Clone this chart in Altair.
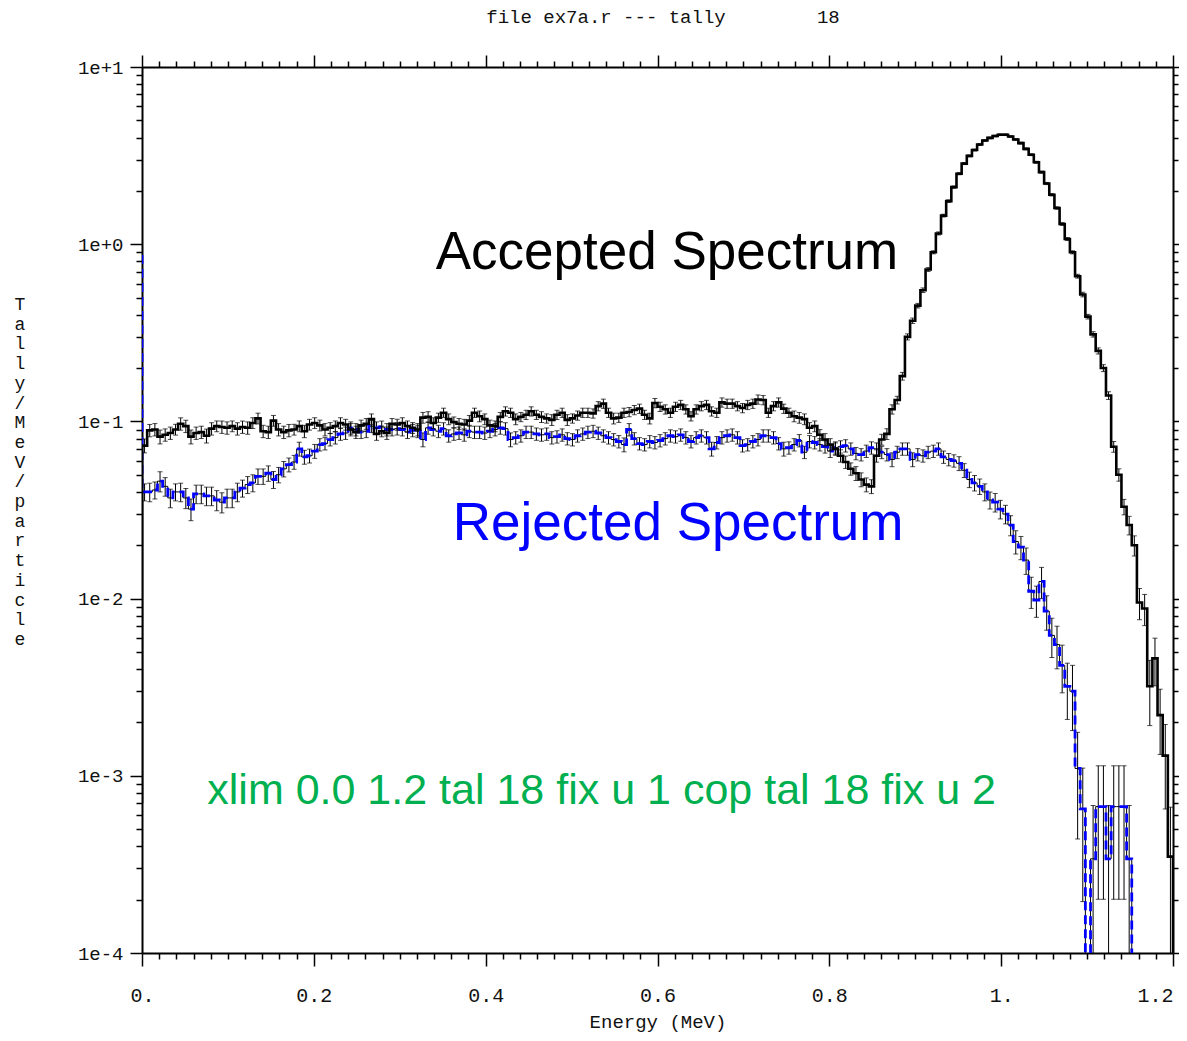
import numpy as np
import pandas as pd
import altair as alt

# ------------------------------------------------------------------ data
E_MAX = 1.2
BIN_W = 0.006
N_BINS = 200
ACC_FIRST = 0.0007     # tiny first bin at E = 0 (accepted)
REJ_FIRST = 0.87       # tiny first bin at E = 0 (rejected)

ACCEPTED = [
    0.073, 0.089, 0.090, 0.082, 0.084, 0.086, 0.090, 0.097, 0.094, 0.082,
    0.086, 0.087, 0.083, 0.091, 0.094, 0.093, 0.092, 0.094, 0.091, 0.093,
    0.092, 0.098, 0.104, 0.088, 0.087, 0.101, 0.090, 0.087, 0.089, 0.090,
    0.094, 0.088, 0.096, 0.098, 0.095, 0.090, 0.092, 0.094, 0.098, 0.096,
    0.090, 0.087, 0.095, 0.097, 0.103, 0.085, 0.088, 0.086, 0.097, 0.096,
    0.098, 0.094, 0.092, 0.090, 0.105, 0.106, 0.098, 0.105, 0.112, 0.103,
    0.099, 0.097, 0.096, 0.101, 0.112, 0.107, 0.103, 0.095, 0.094, 0.106,
    0.114, 0.112, 0.103, 0.106, 0.109, 0.114, 0.109, 0.106, 0.104, 0.102,
    0.109, 0.112, 0.102, 0.104, 0.108, 0.112, 0.112, 0.111, 0.122, 0.126,
    0.112, 0.104, 0.105, 0.112, 0.113, 0.116, 0.118, 0.109, 0.104, 0.127,
    0.121, 0.117, 0.112, 0.121, 0.124, 0.117, 0.107, 0.117, 0.122, 0.124,
    0.114, 0.112, 0.128, 0.126, 0.126, 0.122, 0.119, 0.124, 0.126, 0.133,
    0.132, 0.112, 0.122, 0.128, 0.118, 0.112, 0.107, 0.105, 0.103, 0.092,
    0.094, 0.084, 0.079, 0.074, 0.070, 0.064, 0.059, 0.054, 0.051, 0.047,
    0.044, 0.043, 0.064, 0.079, 0.085, 0.117, 0.132, 0.180, 0.300, 0.370,
    0.45, 0.55, 0.72, 0.90, 1.15, 1.45, 1.75, 2.10, 2.50, 2.85,
    3.15, 3.40, 3.65, 3.85, 3.98, 4.08, 4.15, 4.15, 4.05, 3.90,
    3.72, 3.45, 3.20, 2.90, 2.55, 2.20, 1.90, 1.60, 1.30, 1.07,
    0.90, 0.66, 0.52, 0.39, 0.31, 0.25, 0.20, 0.14, 0.072, 0.050,
    0.033, 0.026, 0.020, 0.0095, 0.0088, 0.0032, 0.0046, 0.0022, 0.0013, 0.00035,
]

REJECTED = [
    0.040, 0.040, 0.041, 0.046, 0.043, 0.037, 0.040, 0.040, 0.037, 0.032,
    0.039, 0.039, 0.038, 0.038, 0.036, 0.035, 0.037, 0.037, 0.040, 0.042,
    0.044, 0.045, 0.049, 0.049, 0.051, 0.047, 0.050, 0.054, 0.057, 0.059,
    0.070, 0.063, 0.064, 0.068, 0.074, 0.075, 0.079, 0.081, 0.085, 0.086,
    0.092, 0.090, 0.087, 0.088, 0.094, 0.092, 0.093, 0.090, 0.090, 0.091,
    0.090, 0.087, 0.089, 0.088, 0.079, 0.092, 0.090, 0.088, 0.091, 0.083,
    0.085, 0.086, 0.084, 0.088, 0.087, 0.087, 0.086, 0.088, 0.090, 0.092,
    0.091, 0.079, 0.081, 0.083, 0.087, 0.087, 0.085, 0.084, 0.085, 0.081,
    0.082, 0.084, 0.080, 0.079, 0.083, 0.085, 0.087, 0.088, 0.086, 0.083,
    0.081, 0.079, 0.077, 0.074, 0.090, 0.080, 0.075, 0.074, 0.077, 0.076,
    0.078, 0.080, 0.083, 0.082, 0.084, 0.081, 0.077, 0.081, 0.083, 0.081,
    0.070, 0.076, 0.081, 0.083, 0.084, 0.081, 0.073, 0.074, 0.077, 0.079,
    0.083, 0.083, 0.081, 0.075, 0.070, 0.071, 0.074, 0.078, 0.067, 0.077,
    0.076, 0.074, 0.072, 0.068, 0.071, 0.072, 0.073, 0.070, 0.066, 0.065,
    0.068, 0.071, 0.070, 0.067, 0.065, 0.061, 0.067, 0.070, 0.070, 0.061,
    0.065, 0.064, 0.067, 0.068, 0.070, 0.063, 0.061, 0.060, 0.058, 0.053,
    0.047, 0.045, 0.043, 0.040, 0.036, 0.035, 0.032, 0.030, 0.026, 0.021,
    0.0195, 0.0165, 0.011, 0.0098, 0.0125, 0.0085, 0.0062, 0.0055, 0.0042, 0.0032,
    0.0030, 0.0011, 0.00065, 0, 0.00034, 0.00067, 0.00067, 0.00034, 0.00067, 0.00067,
    0.00067, 0.00034, 0, 0, 0, 0, 0, 0, 0, 0,
]

ACC_REL = [
    0.09, 0.08, 0.08, 0.09, 0.08, 0.08, 0.07, 0.08, 0.08, 0.09,
    0.08, 0.08, 0.09, 0.08, 0.07, 0.08, 0.08, 0.07, 0.08, 0.08,
    0.08, 0.07, 0.07, 0.08, 0.08, 0.07, 0.08, 0.08, 0.08, 0.07,
    0.07, 0.08, 0.07, 0.07, 0.07, 0.08, 0.07, 0.07, 0.07, 0.07,
    0.08, 0.08, 0.07, 0.07, 0.07, 0.08, 0.07, 0.08, 0.07, 0.07,
    0.07, 0.07, 0.07, 0.08, 0.07, 0.07, 0.07, 0.06, 0.06, 0.07,
    0.07, 0.07, 0.07, 0.07, 0.06, 0.07, 0.07, 0.07, 0.07, 0.06,
    0.06, 0.06, 0.07, 0.06, 0.06, 0.06, 0.06, 0.07, 0.06, 0.07,
    0.06, 0.06, 0.07, 0.06, 0.06, 0.06, 0.06, 0.06, 0.06, 0.06,
    0.06, 0.07, 0.06, 0.06, 0.06, 0.06, 0.06, 0.06, 0.07, 0.06,
    0.06, 0.06, 0.06, 0.06, 0.06, 0.06, 0.06, 0.06, 0.06, 0.06,
    0.06, 0.06, 0.06, 0.06, 0.06, 0.06, 0.06, 0.06, 0.06, 0.06,
    0.06, 0.06, 0.06, 0.06, 0.06, 0.06, 0.07, 0.07, 0.07, 0.07,
    0.07, 0.07, 0.08, 0.08, 0.08, 0.08, 0.08, 0.08, 0.09, 0.09,
    0.09, 0.09, 0.08, 0.07, 0.07, 0.06, 0.05, 0.05, 0.04, 0.035,
    0.03, 0.03, 0.025, 0.02, 0.02, 0.018, 0.016, 0.015, 0.014, 0.013,
    0.012, 0.012, 0.012, 0.011, 0.011, 0.011, 0.011, 0.011, 0.011, 0.011,
    0.012, 0.012, 0.012, 0.013, 0.013, 0.014, 0.015, 0.016, 0.018, 0.02,
    0.02, 0.025, 0.03, 0.03, 0.035, 0.04, 0.045, 0.05, 0.07, 0.08,
    0.10, 0.12, 0.13, 0.20, 0.20, 0.40, 0.30, 0.40, 0.50, 0.90,
]

REJ_REL = [
    0.11, 0.12, 0.11, 0.13, 0.12, 0.12, 0.11, 0.12, 0.13, 0.14,
    0.12, 0.12, 0.12, 0.12, 0.13, 0.13, 0.12, 0.12, 0.12, 0.11,
    0.11, 0.11, 0.10, 0.10, 0.10, 0.11, 0.10, 0.10, 0.09, 0.09,
    0.09, 0.09, 0.09, 0.09, 0.08, 0.08, 0.08, 0.08, 0.08, 0.08,
    0.08, 0.08, 0.08, 0.08, 0.08, 0.08, 0.08, 0.08, 0.08, 0.08,
    0.08, 0.08, 0.08, 0.08, 0.09, 0.08, 0.08, 0.08, 0.08, 0.08,
    0.08, 0.08, 0.08, 0.08, 0.08, 0.08, 0.08, 0.08, 0.08, 0.08,
    0.08, 0.09, 0.08, 0.08, 0.08, 0.08, 0.08, 0.08, 0.08, 0.08,
    0.08, 0.08, 0.08, 0.08, 0.08, 0.08, 0.08, 0.08, 0.08, 0.08,
    0.08, 0.08, 0.08, 0.09, 0.08, 0.08, 0.08, 0.08, 0.08, 0.08,
    0.08, 0.08, 0.08, 0.08, 0.08, 0.08, 0.08, 0.08, 0.08, 0.08,
    0.09, 0.08, 0.08, 0.08, 0.08, 0.08, 0.08, 0.08, 0.08, 0.08,
    0.08, 0.08, 0.08, 0.08, 0.09, 0.08, 0.08, 0.08, 0.08, 0.08,
    0.08, 0.08, 0.08, 0.08, 0.08, 0.08, 0.08, 0.08, 0.08, 0.08,
    0.08, 0.08, 0.08, 0.08, 0.08, 0.09, 0.08, 0.08, 0.08, 0.09,
    0.08, 0.08, 0.08, 0.08, 0.08, 0.08, 0.08, 0.08, 0.09, 0.09,
    0.10, 0.10, 0.10, 0.11, 0.11, 0.12, 0.12, 0.12, 0.13, 0.15,
    0.15, 0.17, 0.20, 0.20, 0.20, 0.22, 0.25, 0.27, 0.30, 0.35,
    0.40, 0.60, 0.70, 0.00, 1.00, 0.70, 0.70, 1.00, 0.70, 0.70,
    0.70, 1.00, 0.00, 0.00, 0.00, 0.00, 0.00, 0.00, 0.00, 0.00,
]

assert len(ACCEPTED) == N_BINS and len(REJECTED) == N_BINS
assert len(ACC_REL) == N_BINS and len(REJ_REL) == N_BINS

X_MAJOR = [0.0, 0.2, 0.4, 0.6, 0.8, 1.0, 1.2]
X_MINOR = [round(0.02 * i, 2) for i in range(61) if i % 10 != 0]
Y_MAJOR = [1e-4, 1e-3, 1e-2, 1e-1, 1e0, 1e1]
Y_MINOR = [k * 10.0 ** e for e in range(-4, 1) for k in range(2, 10)]

TITLE = "file ex7a.r --- tally" + "\u00a0" * 8 + "18"
X_TITLE = "Energy (MeV)"
Y_TITLE = "Tally/MeV/particle"

ANNOT_TEXT = ["Accepted Spectrum", "Rejected Spectrum",
              "xlim 0.0 1.2 tal 18 fix u 1 cop tal 18 fix u 2"]
ANNOT_E = [0.611, 0.624, 0.535]
ANNOT_V = [0.72, 0.0213, 6.9e-4]
ANNOT_COLOR = ["#000000", "#0000FF", "#00B050"]
ANNOT_SIZE = [53, 53, 43]

# ------------------------------------------------------------------ frames
FLOOR = 1e-7
left_edges = np.round(np.arange(N_BINS) * BIN_W, 4)
centers = left_edges + BIN_W / 2


def step_frame(first, vals):
    xs = [0.0] + list(left_edges) + [E_MAX, E_MAX]
    last = vals[-1] if vals[-1] > 0 else FLOOR
    ys = [first] + [v if v > 0 else FLOOR for v in vals] + [last, FLOOR]
    return pd.DataFrame({"E": xs, "V": ys, "o": list(range(len(xs)))})


def err_frame(vals, rel):
    rows = []
    for c, v, r in zip(centers, vals, rel):
        if v > 0 and r > 0:
            rows.append({"E": float(c), "lo": max(v * (1 - r), FLOOR), "hi": v * (1 + r)})
    return pd.DataFrame(rows)


acc_df = step_frame(ACC_FIRST, ACCEPTED)
rej_df = step_frame(REJ_FIRST, REJECTED)
acc_err = err_frame(ACCEPTED, ACC_REL)
rej_err = err_frame(REJECTED, REJ_REL)

xs = alt.Scale(domain=[0, E_MAX], nice=False, zero=False)
ys = alt.Scale(type="log", domain=[1e-4, 10], nice=False)

MONO = "Liberation Mono"
INK = "#111111"


def xq(field, axis=None):
    return alt.X(field, type="quantitative", scale=xs, axis=axis)


def yq(field, axis=None):
    return alt.Y(field, type="quantitative", scale=ys, axis=axis)


# ------------------------------------------------------------------ axes
axis_df = pd.DataFrame({"E": [0.0, E_MAX], "V": [1e-4, 10.0]})
common = dict(grid=False, domainColor="black", tickColor="black",
              labelFlush=False, labelOverlap=False, labelBound=False,
              tickWidth=1.5, domainWidth=2)


def axis_layer(xaxis, yaxis):
    return alt.Chart(axis_df).mark_point(opacity=0).encode(
        x=xq("E", xaxis), y=yq("V", yaxis))


ax_major_bl = axis_layer(
    alt.Axis(orient="bottom", values=X_MAJOR, tickSize=13,
             labelExpr="datum.value == 0 ? '0.' : (datum.value == 1 ? '1.' : format(datum.value, '.1f'))",
             labelAlign={"condition": {"test": "datum.value > 1.1", "value": "right"},
                         "value": "center"},
             labelFont=MONO, labelFontSize=20, labelPadding=19, labelColor=INK,
             title=X_TITLE, titleFont=MONO, titleFontSize=19, titleFontWeight="normal",
             titleColor=INK, titleY=68, titleBaseline="middle", **common),
    alt.Axis(orient="left", values=Y_MAJOR, tickSize=12,
             labelExpr="'1e' + (datum.value >= 1 ? '+' : '-') + abs(round(log(datum.value) / LN10))",
             labelFont=MONO, labelFontSize=19, labelPadding=7, labelColor=INK,
             title=None, **common),
)
ax_minor_bl = axis_layer(
    alt.Axis(orient="bottom", values=X_MINOR, tickSize=6, labels=False,
             domain=False, title=None, grid=False, tickColor="black", tickWidth=1.5),
    alt.Axis(orient="left", values=Y_MINOR, tickSize=6, labels=False,
             domain=False, title=None, grid=False, tickColor="black", tickWidth=1.5),
)
ax_major_tr = axis_layer(
    alt.Axis(orient="top", values=X_MAJOR, tickSize=12, labels=False, title=None, **common),
    alt.Axis(orient="right", values=Y_MAJOR, tickSize=12, labels=False, title=None, **common),
)
ax_minor_tr = axis_layer(
    alt.Axis(orient="top", values=X_MINOR, tickSize=6, labels=False,
             domain=False, title=None, grid=False, tickColor="black", tickWidth=1.5),
    alt.Axis(orient="right", values=Y_MINOR, tickSize=5, labels=False,
             domain=False, title=None, grid=False, tickColor="black", tickWidth=1.5),
)

# ------------------------------------------------------------------ marks
def step_line(df, color, width, dash=None):
    kw = dict(interpolate="step-after", color=color, strokeWidth=width, clip=True)
    if dash:
        kw["strokeDash"] = dash
    return alt.Chart(df).mark_line(**kw).encode(
        x=xq("E"), y=yq("V"), order=alt.Order("o:Q"))


def err_layers(df):
    rule = alt.Chart(df).mark_rule(color="black", strokeWidth=1, clip=True).encode(
        x=xq("E"), y=yq("lo"), y2="hi:Q")
    cap_lo = alt.Chart(df).mark_tick(orient="horizontal", size=5, thickness=1,
                                     color="black", clip=True).encode(x=xq("E"), y=yq("lo"))
    cap_hi = alt.Chart(df).mark_tick(orient="horizontal", size=5, thickness=1,
                                     color="black", clip=True).encode(x=xq("E"), y=yq("hi"))
    return [rule, cap_lo, cap_hi]


rej_thin = step_line(rej_df, "black", 1)
rej_dash = step_line(rej_df, "#0000FF", 2.8, [9, 5])
acc_line = step_line(acc_df, "black", 2.6)

ann_df = pd.DataFrame({"t": ANNOT_TEXT, "E": ANNOT_E, "V": ANNOT_V,
                       "c": ANNOT_COLOR, "s": ANNOT_SIZE})
annotations = alt.Chart(ann_df).mark_text(
    font="Liberation Sans", align="center", baseline="alphabetic"
).encode(
    x=xq("E"), y=yq("V"), text="t:N",
    color=alt.Color("c:N", scale=None), size=alt.Size("s:Q", scale=None),
)

single = pd.DataFrame({"k": [0]})
y_title = alt.Chart(single).mark_text(
    text=list(Y_TITLE), lineHeight=19.7, font=MONO, fontSize=18, color=INK,
    align="center", baseline="middle",
).encode(x=alt.value(-122), y=alt.value(238))

top_title = alt.Chart(single).mark_text(
    text=TITLE, font=MONO, fontSize=19, color=INK,
    align="center", baseline="alphabetic",
).encode(x=alt.value(521), y=alt.value(-44))

layers = [ax_major_bl, ax_minor_bl, ax_major_tr, ax_minor_tr,
          rej_thin] + err_layers(rej_err) + [rej_dash] + err_layers(acc_err) + \
         [acc_line, annotations, y_title, top_title]

chart = alt.layer(*layers).resolve_axis(
    x="independent", y="independent"
).properties(
    width=1031, height=886,
    autosize=alt.AutoSizeParams(type="none"),
    padding={"left": 134, "top": 59, "right": 6, "bottom": 80},
).configure_view(stroke=None)

chart.save("out.html", embed_options={"renderer": "svg", "actions": False})
